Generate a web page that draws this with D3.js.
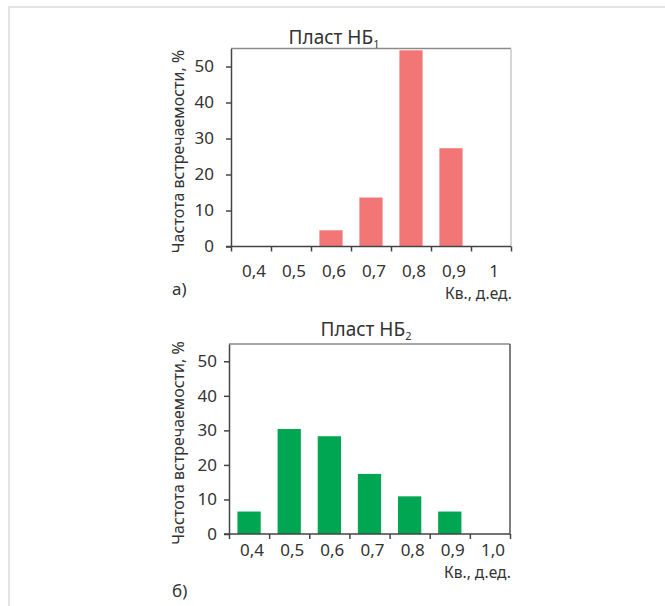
<!DOCTYPE html>
<html>
<head>
<meta charset="utf-8">
<script src="https://cdn.jsdelivr.net/npm/d3@7"></script>
<style>
  html, body { margin: 0; padding: 0; background: #fff; }
  svg text { font-family: "Noto Sans", "Open Sans", sans-serif; fill: #333; }
</style>
</head>
<body>
<svg id="chart" width="665" height="606"></svg>
<script>
// Bins of Kв, frequency in %
var bin_labels_nb1 = ["0,4", "0,5", "0,6", "0,7", "0,8", "0,9", "1"];
var bin_labels_nb2 = ["0,4", "0,5", "0,6", "0,7", "0,8", "0,9", "1,0"];
var freq_nb1 = [0, 0, 4.5, 13.6, 54.5, 27.3, 0];
var freq_nb2 = [6.5, 30.4, 28.3, 17.4, 10.9, 6.5, 0];
var y_ticks = [0, 10, 20, 30, 40, 50];
var y_max = 55;

var svg = d3.select("#chart");

// page frame (only top and left edges are visible)
svg.append("path")
    .attr("d", "M9,665V7H665")
    .attr("fill", "none")
    .attr("stroke", "#e4e4e4")
    .attr("stroke-width", 2);

function panel(opts) {
  var g = svg.append("g");
  var x = d3.scaleBand()
      .domain(opts.labels)
      .range([opts.left, opts.right])
      .paddingInner(0.42)
      .paddingOuter(0.21);
  // bin edges for tick marks
  var edges = d3.scaleLinear()
      .domain([0, opts.labels.length])
      .range([opts.left, opts.right]);
  var y = d3.scaleLinear()
      .domain([0, y_max])
      .range([opts.bottom, opts.top]);

  // frame: top and right
  g.append("line")
      .attr("x1", opts.left).attr("x2", opts.right)
      .attr("y1", opts.top).attr("y2", opts.top)
      .attr("stroke", "#8a8a8a").attr("stroke-width", 1.5);
  g.append("line")
      .attr("x1", opts.right).attr("x2", opts.right)
      .attr("y1", opts.top).attr("y2", opts.bottom)
      .attr("stroke", opts.right_color).attr("stroke-width", 1.5);

  g.selectAll("rect.bar")
      .data(opts.values)
      .enter().append("rect")
      .attr("class", "bar")
      .attr("x", function (d, i) { return x(opts.labels[i]); })
      .attr("width", x.bandwidth())
      .attr("y", function (d) { return y(d); })
      .attr("height", function (d) { return opts.bottom - y(d); })
      .attr("fill", opts.color);

  // x axis: ticks at bin edges, labels at bin centres
  var x_axis = g.append("g")
      .attr("transform", "translate(0," + opts.bottom + ")")
      .call(d3.axisBottom(edges).tickValues(d3.range(opts.labels.length + 1))
          .tickSize(5).tickFormat(""));
  x_axis.select(".domain").attr("d", "M" + (opts.left - 5) + ",0H" + opts.right);

  g.append("g")
      .selectAll("text")
      .data(opts.labels)
      .enter().append("text")
      .attr("x", function (d) { return x(d) + x.bandwidth() / 2 + 3; })
      .attr("y", opts.bottom + opts.xlabel_dy)
      .attr("text-anchor", "middle")
      .style("font-size", "17px")
      .text(function (d) { return d; });

  var y_axis = g.append("g")
      .attr("transform", "translate(" + opts.left + ",0)")
      .call(d3.axisLeft(y).tickValues(y_ticks).tickSize(5).tickPadding(opts.ytick_pad).tickSizeOuter(0));
  y_axis.selectAll("text").style("font-size", "17px").attr("fill", "#333");
  g.selectAll(".domain, .tick line").attr("stroke", "#444").attr("stroke-width", 1.5);

  var title = g.append("text")
      .attr("x", opts.title_x)
      .attr("y", opts.title_y)
      .attr("text-anchor", "middle")
      .style("font-size", "19px")
      .text("Пласт НБ");
  title.append("tspan")
      .attr("dy", 4)
      .style("font-size", "11px")
      .text(opts.sub);

  g.append("text")
      .attr("transform", "translate(" + opts.ylabel_x + "," + ((opts.top + opts.bottom) / 2 + 4) + ") rotate(-90)")
      .attr("text-anchor", "middle")
      .style("font-size", "16px")
      .text("Частота встречаемости, %");

  g.append("text")
      .attr("x", opts.right + 1)
      .attr("y", opts.axis_title_y)
      .attr("text-anchor", "end")
      .style("font-size", "15.5px")
      .text("Кв., д.ед.");

  g.append("text")
      .attr("x", 172)
      .attr("y", opts.letter_y)
      .style("font-size", "17px")
      .text(opts.letter);
}

panel({
  labels: bin_labels_nb1, values: freq_nb1, color: "#f27676",
  left: 231, right: 511, top: 48.5, bottom: 246.5,
  right_color: "#c8c8c8", xlabel_dy: 30, ytick_pad: 12,
  title_x: 334, title_y: 44, sub: "1",
  ylabel_x: 184, axis_title_y: 299, letter: "а)", letter_y: 295
});

panel({
  labels: bin_labels_nb2, values: freq_nb2, color: "#00a651",
  left: 229, right: 510, top: 344, bottom: 534,
  right_color: "#555", xlabel_dy: 22, ytick_pad: 7,
  title_x: 366, title_y: 336, sub: "2",
  ylabel_x: 184, axis_title_y: 578, letter: "б)", letter_y: 597
});
</script>
</body>
</html>
